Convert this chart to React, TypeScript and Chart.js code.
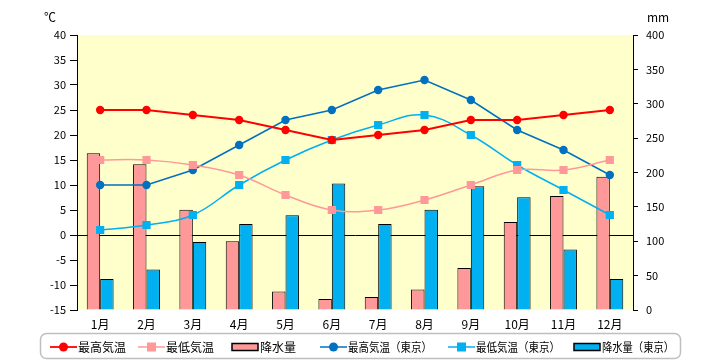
import React, { useEffect, useRef } from "react";
import { Chart, registerables } from "chart.js";

Chart.register(...registerables);

const months = ["1月", "2月", "3月", "4月", "5月", "6月", "7月", "8月", "9月", "10月", "11月", "12月"];
const maxTemp = [25, 25, 24, 23, 21, 19, 20, 21, 23, 23, 24, 25];
const minTemp = [15, 15, 14, 12, 8, 5, 5, 7, 10, 13, 13, 15];
const precip = [228, 212, 146, 100, 27, 16, 19, 30, 61, 128, 166, 194];
const tokyoMax = [10, 10, 13, 18, 23, 25, 29, 31, 27, 21, 17, 12];
const tokyoMin = [1, 2, 4, 10, 15, 19, 22, 24, 20, 14, 9, 4];
const tokyoPrecip = [45, 59, 99, 125, 138, 184, 125, 146, 180, 164, 88, 45];

const seriesLabels = ["最高気温", "最低気温", "降水量", "最高気温（東京）", "最低気温（東京）", "降水量（東京）"];
const tempUnit = "℃";
const precipUnit = "mm";

const FONT = "'Noto Sans CJK JP', sans-serif";

const RED = "#FF0000";
const PINK = "#FF9999";
const BLUE = "#0070C0";
const CYAN = "#00B0F0";

const legendLayout = [
  { x: 50, textW: 0 },
  { x: 138, textW: 0 },
  { x: 232, textW: 0 },
  { x: 320, textW: 84 },
  { x: 448, textW: 84 },
  { x: 574, textW: 72 },
];

const extrasPlugin = {
  id: "extras",
  beforeDraw(chart: any) {
    const { ctx, chartArea } = chart;
    ctx.save();
    ctx.fillStyle = "#FFFFFF";
    ctx.fillRect(0, 0, chart.width, chart.height);
    ctx.fillStyle = "#FFFFCC";
    ctx.fillRect(chartArea.left, chartArea.top, chartArea.right - chartArea.left, chartArea.bottom - chartArea.top);
    ctx.restore();
  },
  afterDraw(chart: any) {
    const { ctx } = chart;
    ctx.save();
    ctx.fillStyle = "#000";
    ctx.font = `12px ${FONT}`;
    ctx.textBaseline = "middle";
    ctx.textAlign = "left";
    ctx.fillText(tempUnit, 44, 17);
    ctx.fillText(precipUnit, 647, 17);

    // legend box
    ctx.strokeStyle = "#BFBFBF";
    ctx.lineWidth = 1.5;
    ctx.beginPath();
    (ctx as any).roundRect(40.5, 333.5, 640, 25, 6);
    ctx.stroke();

    const cy = 347;
    chart.data.datasets.forEach((ds: any, i: number) => {
      const L = legendLayout[i];
      const x0 = L.x;
      const w = 27;
      if (ds.type === "bar") {
        ctx.fillStyle = ds.backgroundColor;
        ctx.strokeStyle = "#000";
        ctx.lineWidth = 1.5;
        ctx.fillRect(x0, cy - 3.5, w - 1, 7);
        ctx.strokeRect(x0, cy - 3.5, w - 1, 7);
      } else {
        ctx.strokeStyle = ds.borderColor;
        ctx.lineWidth = ds.borderWidth;
        ctx.beginPath();
        ctx.moveTo(x0, cy);
        ctx.lineTo(x0 + w, cy);
        ctx.stroke();
        ctx.fillStyle = ds.pointBackgroundColor;
        if (ds.pointStyle === "rect") {
          ctx.fillRect(x0 + w / 2 - 4.5, cy - 4.5, 9, 9);
        } else {
          ctx.beginPath();
          ctx.arc(x0 + w / 2, cy, 4.5, 0, Math.PI * 2);
          ctx.fill();
        }
      }
      ctx.fillStyle = "#000";
      ctx.font = `12px ${FONT}`;
      ctx.textAlign = "left";
      ctx.textBaseline = "middle";
      if (L.textW) ctx.fillText(ds.label, x0 + w + 1, cy, L.textW);
      else ctx.fillText(ds.label, x0 + w + 1, cy);
    });
    ctx.restore();
  },
};

function lineDs(label: string, data: number[], color: string, style: string, width: number, tension: number) {
  return {
    type: "line" as const,
    label,
    data,
    yAxisID: "y",
    borderColor: color,
    backgroundColor: color,
    pointBackgroundColor: color,
    pointBorderColor: color,
    pointBorderWidth: 0,
    pointStyle: style,
    pointRadius: style === "rect" ? 5.8 : 4.2,
    borderWidth: width,
    tension,
    order: 0,
  };
}

function barDs(label: string, data: number[], color: string) {
  return {
    type: "bar" as const,
    label,
    data,
    yAxisID: "y1",
    backgroundColor: color,
    borderColor: "#000",
    borderWidth: 1,
    categoryPercentage: 0.58,
    barPercentage: 1.0,
    order: 1,
  };
}

export default function App() {
  const ref = useRef<HTMLCanvasElement | null>(null);
  useEffect(() => {
    if (!ref.current) return;
    const chart = new Chart(ref.current, {
      data: {
        labels: months,
        datasets: [
          lineDs(seriesLabels[0], maxTemp, RED, "circle", 1.8, 0),
          lineDs(seriesLabels[1], minTemp, PINK, "rect", 1.5, 0.4),
          barDs(seriesLabels[2], precip, PINK),
          lineDs(seriesLabels[3], tokyoMax, BLUE, "circle", 1.5, 0),
          lineDs(seriesLabels[4], tokyoMin, CYAN, "rect", 1.5, 0.4),
          barDs(seriesLabels[5], tokyoPrecip, CYAN),
        ] as any,
      },
      options: {
        animation: false,
        responsive: false,
        devicePixelRatio: 1,
        layout: { padding: { top: 35, bottom: 25, left: 0, right: 0 } },
        plugins: { legend: { display: false }, tooltip: { enabled: false } },
        scales: {
          x: {
            grid: { display: false, drawTicks: false },
            border: { display: false },
            ticks: { color: "#000", font: { family: FONT, size: 12 }, padding: 7 },
            afterFit(s: any) {
              s.height = 25;
            },
          },
          y: {
            position: "left",
            min: -15,
            max: 40,
            ticks: { stepSize: 5, color: "#000", font: { family: FONT, size: 11 }, padding: 4 },
            grid: {
              drawOnChartArea: true,
              color: (c: any) => (c.tick && c.tick.value === 0 ? "#000" : "rgba(0,0,0,0)"),
              tickColor: "#000",
              tickLength: 7,
              lineWidth: 1,
            },
            border: { display: true, color: "#000", width: 1 },
            afterFit(s: any) {
              s.width = 77;
            },
          },
          y1: {
            position: "right",
            min: 0,
            max: 400,
            ticks: { stepSize: 50, color: "#000", font: { family: FONT, size: 11 }, padding: 8 },
            grid: { drawOnChartArea: false, tickColor: "#000", tickLength: 5 },
            border: { display: true, color: "#000", width: 1 },
            afterFit(s: any) {
              s.width = 87;
            },
          },
        },
      } as any,
      plugins: [extrasPlugin],
    });
    return () => chart.destroy();
  }, []);
  return (
    <div style={{ position: "absolute", left: 0, top: 0, width: 720, height: 360 }}>
      <canvas ref={ref} width={720} height={360} />
    </div>
  );
}
